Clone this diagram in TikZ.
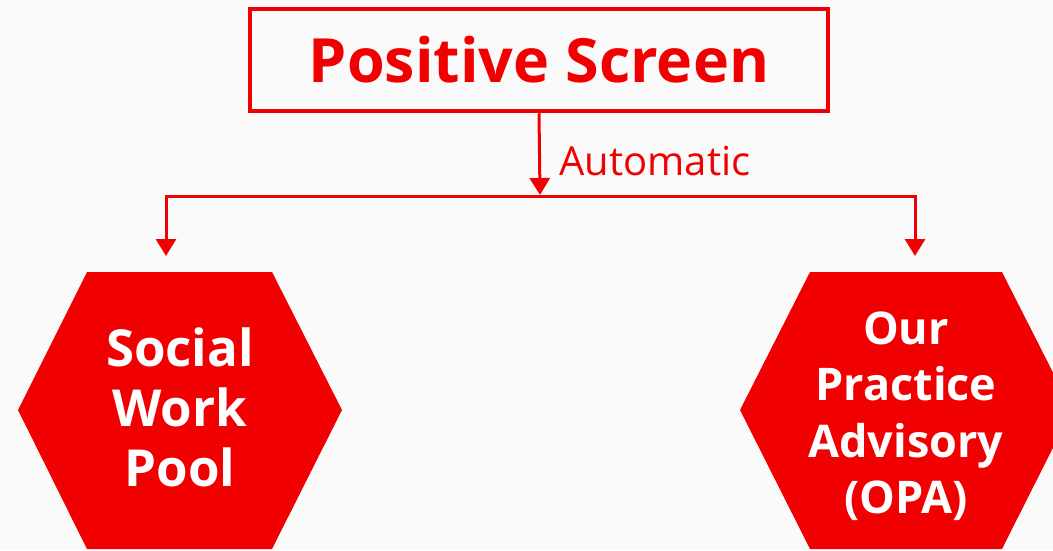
\documentclass[tikz,border=0pt]{standalone}
\usepackage{fontspec}
\setmainfont{Open Sans}
\usetikzlibrary{arrows.meta}
\definecolor{bred}{RGB}{240,0,0}
\definecolor{bgc}{RGB}{250,250,250}
\tikzset{
  conn/.style={draw=bred, line width=3pt},
  arr/.style={conn, -{Triangle[width=20pt,length=17pt]}},
  hextext/.style={text=white, align=center, inner sep=0pt},
}
\begin{document}
\begin{tikzpicture}[x=1pt,y=-1pt]
\fill[bgc] (0,0) rectangle (1053,550);
\useasboundingbox (0,0) rectangle (1053,550);
\node[draw=bred, line width=4.5pt, minimum width=578pt, minimum height=102pt, text=bred,
      font=\fontsize{61}{64}\selectfont\bfseries] (ps) at (539,60) {Positive Screen};
\coordinate (j) at (540,195);
\coordinate (lt) at (166,196);
\coordinate (rt) at (915,196);
\coordinate (la) at (166,256);
\coordinate (ra) at (915,256);
\draw[arr] (ps.south) -- (j);
\node[anchor=base west, text=bred, font=\fontsize{40}{44}\selectfont] (auto) at (556,175) {Automatic};
\draw[conn, line cap=rect] (lt) -- (rt);
\draw[arr] (lt) -- (la);
\draw[arr] (rt) -- (ra);
\fill[bred] (87,272) -- (272,272) -- (342,410) -- (272,549) -- (87,549) -- (18,410) -- cycle;
\fill[bred] (810,272) -- (1002,272) -- (1072,410) -- (1002,549) -- (810,549) -- (740,410) -- cycle;
\node[hextext, font=\fontsize{51}{60}\selectfont\bfseries] (sw) at (180,407) {Social\\Work\\Pool};
\node[hextext, font=\fontsize{45}{56.5}\selectfont\bfseries] (opa) at (906,416) {Our\\Practice\\Advisory\\(OPA)};
\end{tikzpicture}
\end{document}
